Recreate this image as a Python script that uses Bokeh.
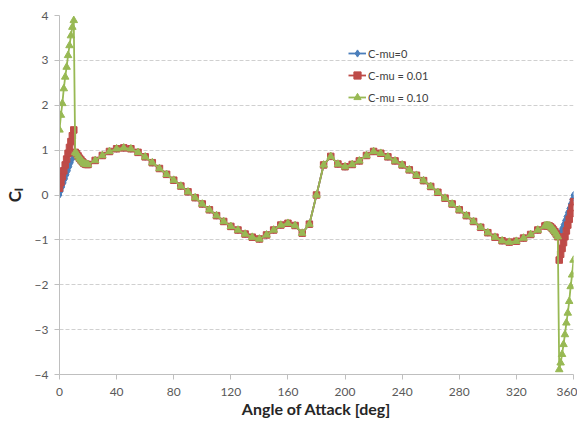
from bokeh.plotting import figure
from bokeh.models import Range1d, FixedTicker, Legend, LegendItem
from bokeh.embed import file_html
from bokeh.resources import INLINE

# ---- data ----
aoa_left = [0, 1, 2, 3, 4, 5, 6, 7, 8, 9, 10]
cl_mu0_left = [0.0, 0.09, 0.18, 0.27, 0.36, 0.45, 0.54, 0.63, 0.72, 0.80, 0.88]
cl_mu001_left = [0.15, 0.28, 0.41, 0.54, 0.67, 0.80, 0.93, 1.06, 1.19, 1.32, 1.45]
cl_mu010_left = [1.45, 1.78, 2.04, 2.37, 2.63, 2.85, 3.11, 3.33, 3.55, 3.74, 3.89]

aoa_common = [11, 12, 13, 14, 15, 16, 17, 18, 19, 20,
              25, 30, 35, 40, 45, 50, 55, 60, 65, 70, 75, 80, 85, 90, 95, 100,
              105, 110, 115, 120, 125, 130, 135, 140, 145, 150, 155, 160, 165, 170,
              175, 180, 185, 190, 195, 200, 205, 210, 215, 220, 225, 230, 235, 240,
              245, 250, 255, 260, 265, 270, 275, 280, 285, 290, 295, 300, 305, 310,
              315, 320, 325, 330, 335, 340,
              341, 342, 343, 344, 345, 346, 347, 348, 349]
cl_common = [0.95, 0.92, 0.87, 0.82, 0.78, 0.74, 0.71, 0.69, 0.68, 0.68,
             0.77, 0.88, 0.97, 1.03, 1.05, 1.03, 0.95, 0.85, 0.72, 0.59, 0.46, 0.33, 0.20, 0.07, -0.06, -0.20,
             -0.33, -0.46, -0.59, -0.70, -0.78, -0.87, -0.94, -0.98, -0.89, -0.78, -0.67, -0.63, -0.68, -0.85,
             -0.65, 0.0, 0.67, 0.86, 0.69, 0.63, 0.68, 0.76, 0.88, 0.97, 0.93, 0.85, 0.76, 0.67,
             0.56, 0.44, 0.32, 0.19, 0.06, -0.07, -0.20, -0.33, -0.46, -0.59, -0.72, -0.84, -0.94, -1.02,
             -1.05, -1.03, -0.96, -0.88, -0.78, -0.69,
             -0.68, -0.68, -0.69, -0.71, -0.74, -0.78, -0.82, -0.87, -0.93]

aoa_right = [350, 351, 352, 353, 354, 355, 356, 357, 358, 359, 360]
cl_mu0_right = [-0.90, -0.82, -0.74, -0.66, -0.57, -0.48, -0.39, -0.30, -0.20, -0.10, 0.0]
cl_mu001_right = [-1.45, -1.32, -1.19, -1.06, -0.93, -0.80, -0.67, -0.54, -0.41, -0.28, -0.15]
cl_mu010_right = [-3.89, -3.74, -3.55, -3.33, -3.11, -2.85, -2.63, -2.37, -2.04, -1.78, -1.45]

series_names = ["C-mu=0", "C-mu = 0.01", "C-mu = 0.10"]
x_ticks = [0, 40, 80, 120, 160, 200, 240, 280, 320, 360]
y_ticks = [-4, -3, -2, -1, 0, 1, 2, 3, 4]

aoa_all = aoa_left + aoa_common + aoa_right
series_cl = [
    cl_mu0_left + cl_common + cl_mu0_right,
    cl_mu001_left + cl_common + cl_mu001_right,
    cl_mu010_left + cl_common + cl_mu010_right,
]

colors = ["#4A7EBB", "#BE4B48", "#98B954"]
markers = ["diamond", "square", "triangle"]
msizes = [7, 6.5, 7.5]

FONT = "Lato"

p = figure(width=577, height=420, output_backend="svg", toolbar_location=None,
           x_range=Range1d(0, 360), y_range=Range1d(-4, 4),
           min_border_left=59, min_border_top=15, min_border_right=4, min_border_bottom=44)
p.outline_line_color = None
p.background_fill_color = "white"
p.border_fill_color = "white"
p.xgrid.visible = False
p.ygrid.grid_line_color = "#d0d0d0"
p.ygrid.grid_line_dash = "4 2"
p.ygrid.grid_line_width = 1

for ax, ticks in ((p.xaxis, x_ticks), (p.yaxis, y_ticks)):
    ax.ticker = FixedTicker(ticks=ticks)
    ax.axis_line_color = "#bfbfbf"
    ax.major_tick_line_color = "#bfbfbf"
    ax.major_tick_out = 5
    ax.major_tick_in = 0
    ax.minor_tick_out = 0
    ax.minor_tick_in = 0
    ax.major_label_text_font = FONT
    ax.major_label_text_font_size = "12px"
    ax.major_label_text_color = "#595959"

p.xaxis.axis_label = "Angle of Attack [deg]"
p.xaxis.axis_label_text_font = FONT
p.xaxis.axis_label_text_font_size = "16px"
p.xaxis.axis_label_text_line_height = 1.0
p.xaxis.axis_label_text_font_style = "bold"
p.xaxis.axis_label_text_color = "#262626"
p.xaxis.axis_label_standoff = 0
p.xaxis.major_label_standoff = 8

p.yaxis.axis_label = "C\u2097"
p.yaxis.axis_label_text_font = FONT
p.yaxis.axis_label_text_font_size = "17px"
p.yaxis.axis_label_text_line_height = 1.0
p.yaxis.axis_label_text_font_style = "bold"
p.yaxis.axis_label_text_color = "#262626"
p.yaxis.axis_label_standoff = 7
p.yaxis.major_label_standoff = 6

items = []
for name, cl, c, m, s in zip(series_names, series_cl, colors, markers, msizes):
    ln = p.line(aoa_all, cl, line_color=c, line_width=1.8)
    sc = p.scatter(aoa_all, cl, marker=m, size=s, fill_color=c, line_color=c)
    items.append(LegendItem(label=name, renderers=[ln, sc]))

legend = Legend(items=items, location=(289, 267), orientation="vertical",
                background_fill_alpha=0, border_line_color=None,
                label_text_font=FONT, label_text_font_size="11px", label_text_color="#404040",
                glyph_width=18, glyph_height=20, label_height=20, spacing=2,
                padding=0, margin=0, label_standoff=2)
p.add_layout(legend, "center")

open("out.html", "w").write(file_html(p, INLINE))
